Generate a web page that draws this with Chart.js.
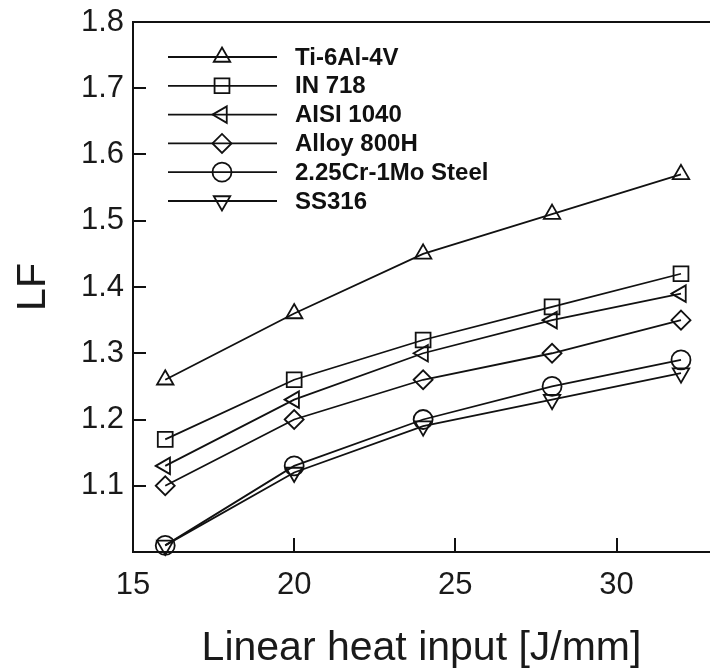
<!DOCTYPE html>
<html>
<head>
<meta charset="utf-8">
<script src="https://cdn.jsdelivr.net/npm/chart.js@4"></script>
<style>
  body { margin: 0; background: #fff; }
  #wrap { width: 710px; height: 669px; }
</style>
</head>
<body>
<div id="wrap"><canvas id="lf-chart" width="710" height="669"></canvas></div>
<script>
const heatInput = [16, 20, 24, 28, 32];
const materials = ["Ti-6Al-4V", "IN 718", "AISI 1040", "Alloy 800H", "2.25Cr-1Mo Steel", "SS316"];
const ti6al4v = [1.26, 1.36, 1.45, 1.51, 1.57];
const in718 = [1.17, 1.26, 1.32, 1.37, 1.42];
const aisi1040 = [1.13, 1.23, 1.30, 1.35, 1.39];
const alloy800h = [1.10, 1.20, 1.26, 1.30, 1.35];
const crMoSteel = [1.01, 1.13, 1.20, 1.25, 1.29];
const ss316 = [1.01, 1.12, 1.19, 1.23, 1.27];
const yTicks = [1.1, 1.2, 1.3, 1.4, 1.5, 1.6, 1.7, 1.8];
const xTicks = [15, 20, 25, 30];

const seriesValues = [ti6al4v, in718, aisi1040, alloy800h, crMoSteel, ss316];
const markers = [
  { style: "triangle", rot: 0, r: 9.5 },
  { style: "rect", rot: 0, r: 10.5 },
  { style: "triangle", rot: 270, r: 9.5 },
  { style: "rectRot", rot: 0, r: 9.5 },
  { style: "circle", rot: 0, r: 9.5 },
  { style: "triangle", rot: 180, r: 9.5 },
];

const INK = "#111";
const FONT = "'Liberation Sans', Arial, sans-serif";

function toPoints(values) {
  return values.map((v, i) => ({ x: heatInput[i], y: v }));
}

// frame top line, inward tick marks and the line+marker legend
const framePlugin = {
  id: "frame",
  afterDraw(chart) {
    const ctx = chart.ctx;
    const a = chart.chartArea;
    const xs = chart.scales.x, ys = chart.scales.y;
    ctx.save();
    ctx.strokeStyle = INK;
    ctx.lineWidth = 2;
    ctx.beginPath();
    ctx.moveTo(a.left, a.top);
    ctx.lineTo(a.right, a.top);
    yTicks.forEach(v => {
      const y = Math.round(ys.getPixelForValue(v));
      ctx.moveTo(a.left, y);
      ctx.lineTo(a.left + 13, y);
    });
    xTicks.forEach(v => {
      const x = Math.round(xs.getPixelForValue(v));
      ctx.moveTo(x, a.bottom);
      ctx.lineTo(x, a.bottom - 14);
    });
    ctx.stroke();

    // legend
    ctx.font = "bold 24px " + FONT;
    ctx.textBaseline = "middle";
    materials.forEach((name, i) => {
      const y = 57 + i * 28.8;
      ctx.lineWidth = 1.8;
      ctx.beginPath();
      ctx.moveTo(168, y);
      ctx.lineTo(277, y);
      ctx.stroke();
      const m = markers[i];
      ctx.fillStyle = "rgba(0,0,0,0)";
      Chart.helpers.drawPoint(ctx, {
        pointStyle: m.style, rotation: m.rot, radius: m.r, borderWidth: 1.8
      }, 222, y);
      ctx.fillStyle = INK;
      ctx.fillText(name, 295, y + 1);
    });
    ctx.restore();
  }
};

new Chart(document.getElementById("lf-chart"), {
  type: "line",
  data: {
    datasets: materials.map((name, i) => ({
      label: name,
      data: toPoints(seriesValues[i]),
      borderColor: INK,
      borderWidth: 1.8,
      pointStyle: markers[i].style,
      pointRotation: markers[i].rot,
      pointRadius: markers[i].r,
      pointBorderColor: INK,
      pointBorderWidth: 1.8,
      pointBackgroundColor: "rgba(0,0,0,0)",
      tension: 0,
      clip: false,
    })),
  },
  options: {
    responsive: false,
    animation: false,
    layout: { autoPadding: false, padding: { top: 22, right: 0, left: 0, bottom: 0 } },
    plugins: { legend: { display: false }, tooltip: { enabled: false } },
    scales: {
      x: {
        type: "linear",
        min: 15,
        max: 32.9,
        afterBuildTicks: (s) => { s.ticks = xTicks.map(v => ({ value: v })); },
        afterFit: (s) => { s.height = 117; s.paddingLeft = 0; s.paddingRight = 0; },
        grid: { display: false, drawTicks: false },
        border: { display: true, color: INK, width: 2 },
        ticks: {
          padding: 15,
          color: "#1a1a1a",
          font: { family: FONT, size: 31 },
          callback: (v) => String(v),
        },
        title: {
          display: true,
          text: "Linear heat input [J/mm]",
          color: "#1a1a1a",
          font: { family: FONT, size: 41, lineHeight: 1 },
          padding: { top: 1, bottom: 0 },
        },
      },
      y: {
        type: "linear",
        min: 1.0,
        max: 1.8,
        afterBuildTicks: (s) => { s.ticks = yTicks.map(v => ({ value: v })); },
        afterFit: (s) => { s.width = 133; s.paddingTop = 0; s.paddingBottom = 0; },
        grid: { display: false, drawTicks: false },
        border: { display: true, color: INK, width: 2 },
        ticks: {
          padding: 9,
          color: "#1a1a1a",
          font: { family: FONT, size: 31 },
          callback: (v) => v.toFixed(1),
        },
        title: {
          display: true,
          text: "LF",
          color: "#1a1a1a",
          font: { family: FONT, size: 41, lineHeight: 1 },
          padding: { top: 13, bottom: 0 },
        },
      },
    },
  },
  plugins: [framePlugin],
});
</script>
</body>
</html>
